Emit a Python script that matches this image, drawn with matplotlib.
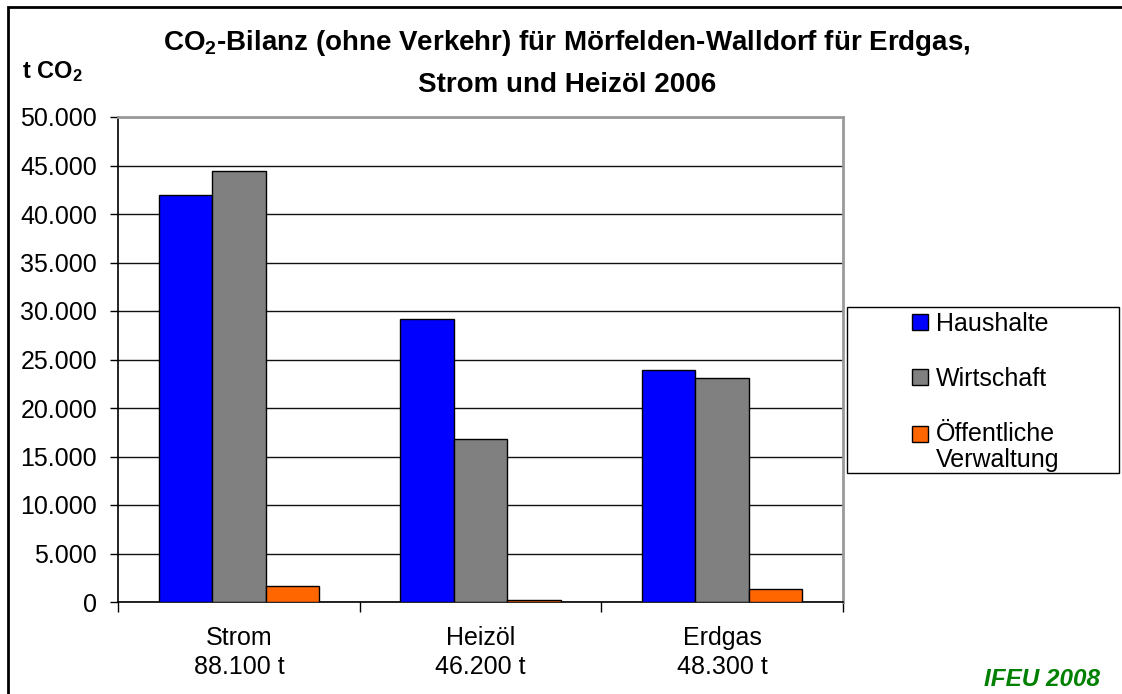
import numpy as np
import matplotlib
matplotlib.use("Agg")
from matplotlib import pyplot as plt
from matplotlib.patches import Rectangle
from matplotlib.legend_handler import HandlerPatch
from matplotlib.ticker import FuncFormatter

plt.rcParams['font.family'] = ['Liberation Sans', 'DejaVu Sans']
plt.rcParams['mathtext.fontset'] = 'custom'
plt.rcParams['mathtext.rm'] = 'Liberation Sans'
plt.rcParams['mathtext.bf'] = 'Liberation Sans:bold'
plt.rcParams['mathtext.it'] = 'Liberation Sans:italic'

categories = ["Strom\n88.100 t", "Heizöl\n46.200 t", "Erdgas\n48.300 t"]
series_names = ["Haushalte", "Wirtschaft", "Öffentliche\nVerwaltung"]
haushalte = [42000, 29200, 23900]
wirtschaft = [44400, 16800, 23100]
verwaltung = [1700, 200, 1300]
colors = ["#0000FF", "#808080", "#FF6600"]

W, H = 1122, 694
fig = plt.figure(figsize=(W / 100, H / 100), dpi=100)
fig.patch.set_facecolor("white")

# plot area in pixels: x 118..843, y 117..602
ax = fig.add_axes([118 / W, (H - 602) / H, (843 - 118) / W, (602 - 117) / H])

x = np.arange(len(categories))
width = 0.221
bars = []
for k, vals in enumerate([haushalte, wirtschaft, verwaltung]):
    b = ax.bar(x + (k - 1) * width, vals, width, color=colors[k],
               edgecolor="black", linewidth=1, zorder=3)
    bars.append(b)

ax.set_xlim(-0.5, 2.5)
ax.set_ylim(0, 50000)
ax.set_yticks(np.arange(0, 50001, 5000))
ax.yaxis.set_major_formatter(FuncFormatter(lambda v, p: f"{int(v):,}".replace(",", ".")))
ax.grid(axis="y", color="#111111", linewidth=1, zorder=0)
ax.set_axisbelow(True)

ax.set_xticks(x)
ax.set_xticklabels(categories, fontsize=18, linespacing=1.3)
ax.set_xticks([-0.5, 0.5, 1.5, 2.5], minor=True)
ax.tick_params(axis="x", which="major", length=0, pad=17)
ax.tick_params(axis="x", which="minor", length=7, width=1, color="black")
ax.tick_params(axis="y", length=6, width=1, labelsize=18, pad=9)

for side in ["left", "bottom"]:
    ax.spines[side].set_color("black")
    ax.spines[side].set_linewidth(1.2)
for side in ["top", "right"]:
    ax.spines[side].set_color("#9a9a9a")
    ax.spines[side].set_linewidth(2)

# titles
fig.text(567 / W, 1 - 50 / H, r"CO$_\mathbf{2}$-Bilanz (ohne Verkehr) für Mörfelden-Walldorf für Erdgas,",
         ha="center", va="baseline", fontsize=20, fontweight="bold")
fig.text(567 / W, 1 - 92 / H, "Strom und Heizöl 2006",
         ha="center", va="baseline", fontsize=20, fontweight="bold")
fig.text(22 / W, 1 - 78 / H, r"t CO$_\mathbf{2}$", ha="left", va="baseline",
         fontsize=17, fontweight="bold")
fig.text(1100 / W, 1 - 686 / H, "IFEU 2008", ha="right", va="baseline",
         fontsize=17.5, fontweight="bold", fontstyle="italic", color="#008000")


# keep the two-line entry's box next to its first line
def first_line_patch(legend, orig_handle, xdescent, ydescent, width, height, fontsize):
    return Rectangle((-xdescent, -ydescent + 0.55 * fontsize), width, height)


handles = [b.patches[0] for b in bars]
leg = fig.legend(handles, series_names, loc="upper left",
                 bbox_to_anchor=(912 / W, 1 - 312 / H), bbox_transform=fig.transFigure,
                 frameon=False, fontsize=18, handlelength=0.62, handleheight=0.62,
                 handletextpad=0.32, labelspacing=1.24, borderpad=0, borderaxespad=0,
                 handler_map={handles[2]: HandlerPatch(patch_func=first_line_patch)})
for t in leg.get_texts():
    t.set_linespacing(1.1)
fig.add_artist(Rectangle((847 / W, (H - 473) / H), (1119 - 847) / W, (473 - 307) / H,
                         transform=fig.transFigure, fill=False, edgecolor="black", linewidth=1))

# outer chart border (right and bottom edges lie outside the picture)
fig.add_artist(Rectangle((7.5 / W, -0.1), 1.3, 1.1 - 7.5 / H,
                         transform=fig.transFigure, fill=False, edgecolor="black", linewidth=2))

plt.savefig("out.png", dpi=100)
plt.close()
